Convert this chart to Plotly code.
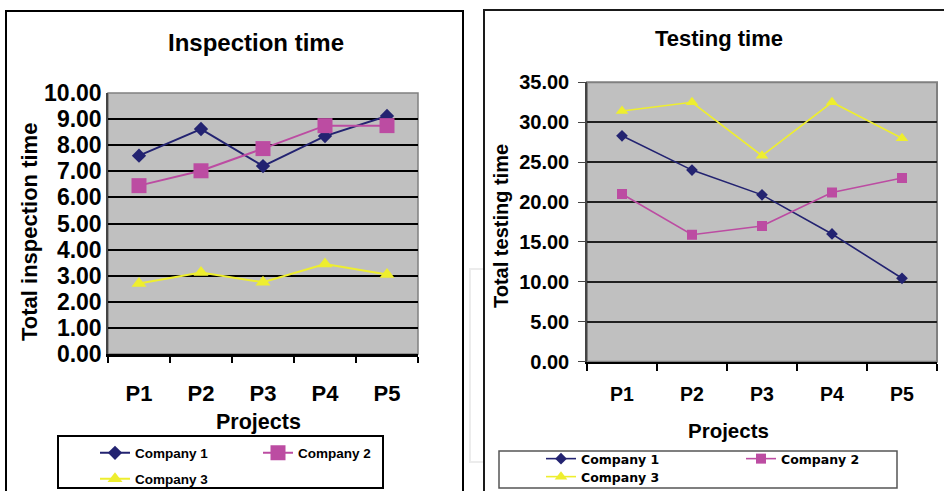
import plotly.graph_objects as go

W, H = 944, 491

projects = ["P1", "P2", "P3", "P4", "P5"]
companies = ["Company 1", "Company 2", "Company 3"]

inspection_c1 = [7.6, 8.62, 7.2, 8.35, 9.12]
inspection_c2 = [6.45, 7.02, 7.87, 8.75, 8.75]
inspection_c3 = [2.7, 3.12, 2.75, 3.45, 3.05]

testing_c1 = [28.3, 24.0, 20.9, 16.0, 10.45]
testing_c2 = [21.0, 15.9, 17.0, 21.2, 23.0]
testing_c3 = [31.4, 32.5, 25.8, 32.5, 28.0]

colors = ["#232371", "#BC4CA2", "#EEEE2E"]
symbols = ["diamond", "square", "triangle-up"]

FONT = "Arial, Liberation Sans, sans-serif"


def px(x):
    return x / W


def py(y):
    return 1 - y / H


fig = go.Figure()

left_sizes = [11, 15, 13]
right_sizes = [9, 10, 11]
left_data = [inspection_c1, inspection_c2, inspection_c3]
right_data = [testing_c1, testing_c2, testing_c3]
left_legends = ["legend", "legend", "legend2"]
right_legends = ["legend3", "legend3", "legend4"]

for i, name in enumerate(companies):
    fig.add_trace(go.Scatter(
        x=projects, y=left_data[i], name=name, mode="lines+markers",
        line=dict(color=colors[i], width=2),
        marker=dict(symbol=symbols[i], size=left_sizes[i], color=colors[i]),
        xaxis="x", yaxis="y", legend=left_legends[i],
    ))
for i, name in enumerate(companies):
    fig.add_trace(go.Scatter(
        x=projects, y=right_data[i], name=name, mode="lines+markers",
        line=dict(color=colors[i], width=1.6),
        marker=dict(symbol=symbols[i], size=right_sizes[i], color=colors[i]),
        xaxis="x2", yaxis="y2", legend=right_legends[i],
    ))

xcommon = dict(type="category", tickson="boundaries", ticks="outside",
               showgrid=False, showline=True, linecolor="#000000",
               tickcolor="#000000", range=[-0.5, 4.5], fixedrange=True)

fig.update_layout(
    width=W, height=H,
    margin=dict(l=0, r=0, t=0, b=0, pad=0, autoexpand=False),
    paper_bgcolor="white",
    plot_bgcolor="#C0C0C0",
    font=dict(family=FONT, color="#000000"),
    xaxis=dict(domain=[px(108), px(418)], anchor="y", linewidth=2.5,
               ticklen=6, tickwidth=2, ticklabelstandoff=18,
               tickfont=dict(size=22, weight="bold", family=FONT), **xcommon),
    yaxis=dict(domain=[py(354), py(93)], anchor="x", range=[0, 10], dtick=1,
               tickformat=".2f", showgrid=True, gridcolor="#000000", gridwidth=2,
               showline=True, linecolor="#444444", linewidth=1.5,
               ticks="inside", ticklen=4, tickcolor="#000000",
               tickfont=dict(size=23, weight="bold", family=FONT),
               zeroline=False, fixedrange=True),
    xaxis2=dict(domain=[px(587), px(937)], anchor="y2", linewidth=2,
                ticklen=7, tickwidth=1.5, ticklabelstandoff=14,
                tickfont=dict(size=19.5, weight="bold", family=FONT), **xcommon),
    yaxis2=dict(domain=[py(361.7), py(82.3)], anchor="x2", range=[0, 35], dtick=5,
                tickformat=".2f", showgrid=True, gridcolor="#202020", gridwidth=1.5,
                showline=True, linecolor="#444444", linewidth=1.5,
                ticks="outside", ticklen=7, tickcolor="#444444",
                ticklabelstandoff=5,
                tickfont=dict(size=20, weight="bold", family=FONT),
                zeroline=False, fixedrange=True),
    legend=dict(orientation="h", x=px(95), y=py(453), xanchor="left", yanchor="middle",
                entrywidth=118, bgcolor="rgba(0,0,0,0)", borderwidth=0,
                font=dict(size=13.5, weight="bold", family=FONT)),
    legend2=dict(orientation="h", x=px(95), y=py(479), xanchor="left", yanchor="middle",
                 bgcolor="rgba(0,0,0,0)", borderwidth=0,
                 font=dict(size=13.5, weight="bold", family=FONT)),
    legend3=dict(orientation="h", x=px(541), y=py(459), xanchor="left", yanchor="middle",
                 entrywidth=155, bgcolor="rgba(0,0,0,0)", borderwidth=0,
                 font=dict(size=12.5, weight="bold", family="DejaVu Sans")),
    legend4=dict(orientation="h", x=px(541), y=py(477), xanchor="left", yanchor="middle",
                 bgcolor="rgba(0,0,0,0)", borderwidth=0,
                 font=dict(size=12.5, weight="bold", family="DejaVu Sans")),
    showlegend=True,
)

shapes = [
    # faint background frame
    dict(type="rect", xref="paper", yref="paper", x0=px(470), x1=px(484), y0=py(462), y1=py(269),
         line=dict(color="#ececec", width=2), layer="below"),
    # outer chart frames
    dict(type="rect", xref="paper", yref="paper", x0=px(6), x1=px(463), y0=py(500), y1=py(11),
         line=dict(color="#000000", width=2)),
    dict(type="rect", xref="paper", yref="paper", x0=px(484), x1=px(960), y0=py(500), y1=py(10),
         line=dict(color="#1a1a1a", width=2)),
    # plot area borders
    dict(type="rect", xref="paper", yref="paper", x0=px(108), x1=px(418), y0=py(354), y1=py(93),
         line=dict(color="#808080", width=1.5), layer="below"),
    dict(type="rect", xref="paper", yref="paper", x0=px(587), x1=px(937), y0=py(361.7), y1=py(82.3),
         line=dict(color="#808080", width=2), layer="below"),
    # legend boxes
    dict(type="rect", xref="paper", yref="paper", x0=px(58), x1=px(383), y0=py(488), y1=py(436),
         line=dict(color="#000000", width=2)),
    dict(type="rect", xref="paper", yref="paper", x0=px(499), x1=px(897), y0=py(488), y1=py(451),
         line=dict(color="#555555", width=1.5)),
]
fig.update_layout(shapes=shapes)


def ann(text, x, y, size, angle=0):
    fig.add_annotation(text="<b>%s</b>" % text, x=px(x), y=py(y), xref="paper", yref="paper",
                       xanchor="center", yanchor="middle", showarrow=False, textangle=angle,
                       font=dict(size=size, family=FONT, color="#000000"))


ann("Inspection time", 256, 43, 24)
ann("Total inspection time", 30, 232, 22, -90)
ann("Projects", 258, 422, 21.5)
ann("Testing time", 719, 38, 22)
ann("Total testing time", 501, 226, 20, -90)
ann("Projects", 728, 430, 20.5)

fig.write_html("out.html", config={"displayModeBar": False},
               post_script="document.body.style.margin='0';document.body.style.padding='0';")
